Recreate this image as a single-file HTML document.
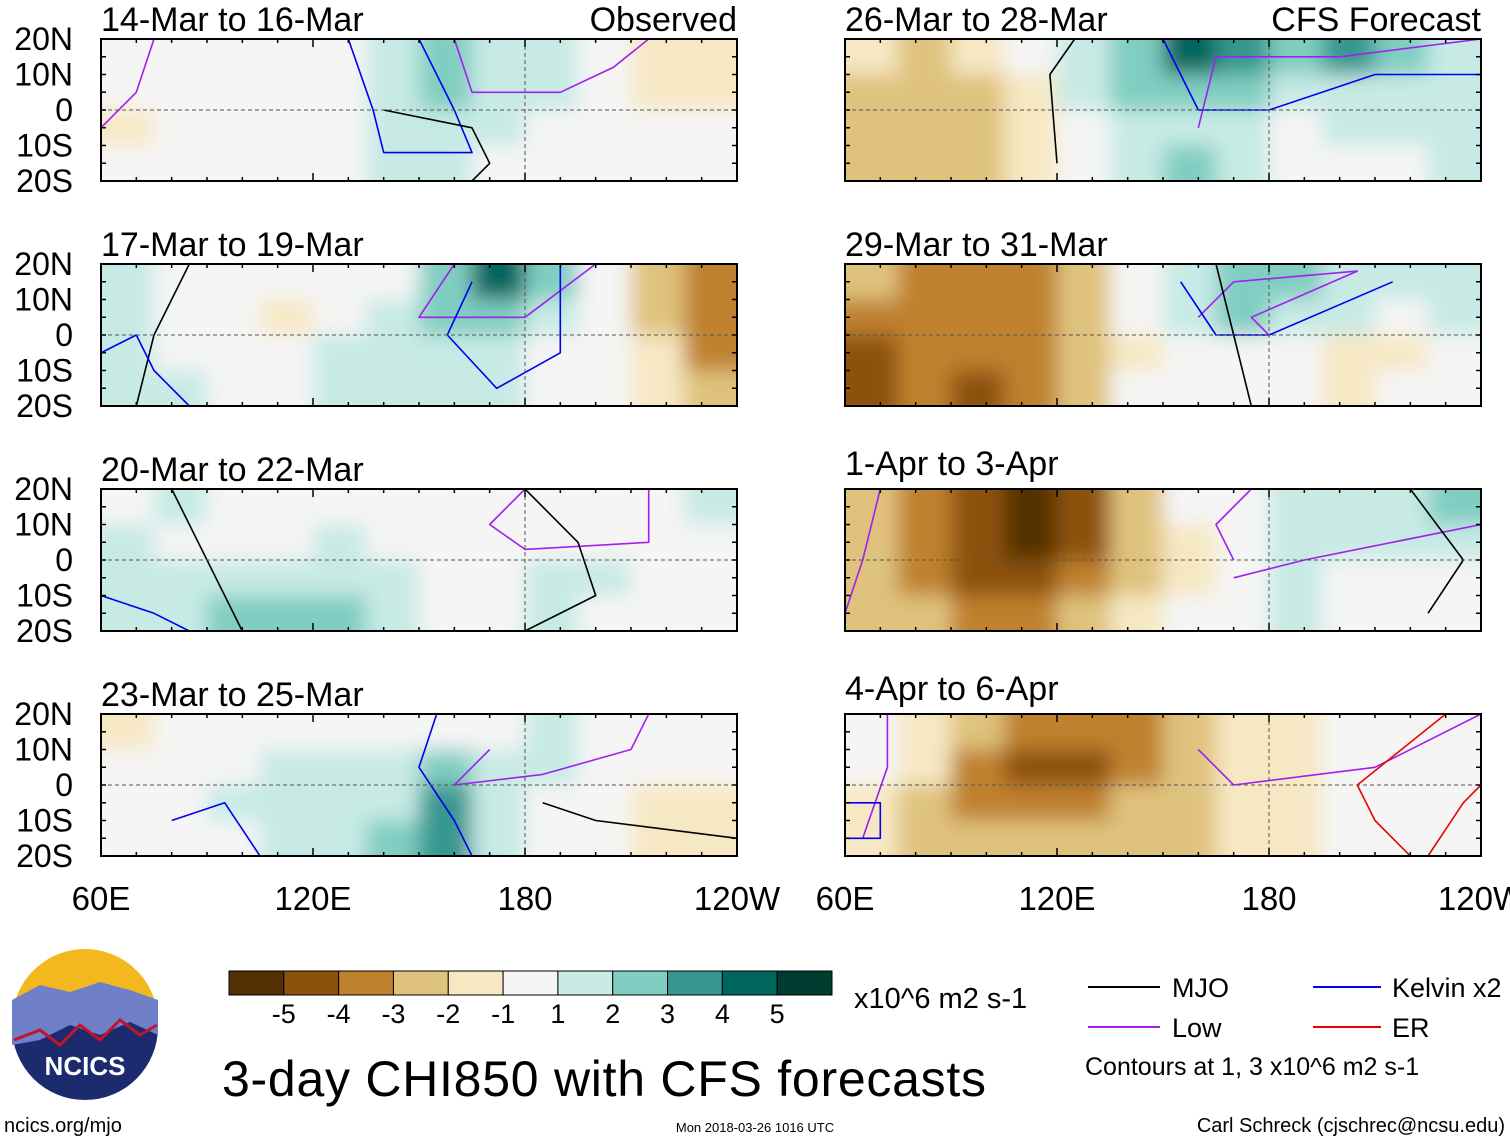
<!DOCTYPE html>
<html><head><meta charset="utf-8">
<style>
body{margin:0;background:#fff;}
svg{display:block;font-family:"Liberation Sans",Arial,sans-serif;}
</style></head>
<body>
<svg id="chart" width="1510" height="1142" viewBox="0 0 1510 1142">
<defs>
<filter id="blur" x="-5%" y="-20%" width="110%" height="140%"><feGaussianBlur stdDeviation="10"/></filter>
</defs>
<g id="panels"></g>
<g id="bottom">
  <g>
    <circle cx="85" cy="1027" r="73" fill="#1c2a6e"/>
    <path d="M13,1010 A73,73 0 0 1 157,1010 Z" fill="#f2b81e"/>
    <path d="M12,1000 L40,985 L70,992 L100,982 L130,990 L158,1000 L158,1035 L130,1022 L100,1035 L70,1025 L40,1040 L12,1045 Z" fill="#6f7fc8"/>
    <path d="M14,1040 L40,1030 L60,1045 L80,1025 L100,1040 L120,1020 L140,1035 L157,1025" stroke="#c0152a" stroke-width="3" fill="none"/>
    <text x="85" y="1075" font-size="26" font-weight="bold" fill="#fff" text-anchor="middle">NCICS</text>
  </g>
  <g id="colorbar"></g>
  <text x="854" y="1008" font-size="29">x10^6 m2 s-1</text>
  <text x="222" y="1096" font-size="50" textLength="764">3-day CHI850 with CFS forecasts</text>
  <g>
    <line x1="1088" y1="987" x2="1160" y2="987" stroke="#000" stroke-width="2"/>
    <text x="1172" y="997" font-size="27">MJO</text>
    <line x1="1313" y1="987" x2="1381" y2="987" stroke="#0000ee" stroke-width="2"/>
    <text x="1392" y="997" font-size="27">Kelvin x2</text>
    <line x1="1088" y1="1027" x2="1160" y2="1027" stroke="#a020f0" stroke-width="2"/>
    <text x="1172" y="1037" font-size="27">Low</text>
    <line x1="1313" y1="1027" x2="1381" y2="1027" stroke="#ee0000" stroke-width="2"/>
    <text x="1392" y="1037" font-size="27">ER</text>
    <text x="1085" y="1075" font-size="25">Contours at 1, 3 x10^6 m2 s-1</text>
  </g>
  <text x="4" y="1132" font-size="20">ncics.org/mjo</text>
  <text x="755" y="1132" font-size="13" text-anchor="middle">Mon 2018-03-26 1016 UTC</text>
  <text x="1505" y="1132" font-size="20" text-anchor="end">Carl Schreck (cjschrec@ncsu.edu)</text>
</g>
</svg>
<script>
const titles = ["14-Mar to 16-Mar","17-Mar to 19-Mar","20-Mar to 22-Mar","23-Mar to 25-Mar","26-Mar to 28-Mar","29-Mar to 31-Mar","1-Apr to 3-Apr","4-Apr to 6-Apr"];
const lonEdges = [60,75,90,105,120,135,150,165,180,195,210,225,240];
const latEdges = [20,10,0,-10,-20];
const latTicks = ["20N","10N","0","10S","20S"];
const latTickVals = [20,10,0,-10,-20];
const lonTicks = ["60E","120E","180","120W"];
const lonTickVals = [60,120,180,240];
const levels = [-5,-4,-3,-2,-1,1,2,3,4,5];
const levelLabels = ["-5","-4","-3","-2","-1","1","2","3","4","5"];
const colors = ["#543005","#8c510a","#bf812d","#dfc27d","#f6e8c3","#f5f5f5","#c7eae5","#80cdc1","#35978f","#01665e","#003c30"];
const p1 = [[0,0,0,0,0,1.5,2.5,2,1.5,0,-1.5,-1.5],[0,0,0,0,0,1.5,3,2,1.5,0,-1,-1.5],[-1.2,0,0,0,0,1.5,2,1.5,0,0,0,0],[0,0,0,0,0,1.5,1.5,0,0,0,0,0]];
const p2 = [[1.5,0,0,0,0,0,2.5,4.5,2.5,0,-2,-3.5],[1.5,0,0,-1.5,0,1.5,3,3,2,0,-2,-3.5],[1.5,0,0,0,1.5,1.5,1.5,1.5,0,0,-1.5,-3],[1.5,1.5,0,0,1.5,1.5,1.5,1.5,0,0,-1.5,-2.5]];
const p3 = [[0,1.5,0,0,0,0,0,0,0,0,0,1.5],[1.5,0,0,0,1.5,0,0,0,0,0,0,0],[1.5,1.5,2,2,1.5,1.5,0,0,1.5,1.5,0,0],[1.5,1.5,2.5,3,2.5,1.5,0,0,1.5,0,0,0]];
const p4 = [[-1.2,0,0,0,0,0,0,0,1.5,0,0,0],[0,0,0,1.5,1.5,2,2.5,1.5,1.5,0,0,0],[0,0,1.5,2,2,2,3.5,2,0,0,-1.5,-1.5],[0,0,0,1.5,1.5,2.5,4,2,0,0,-1.5,-1.2]];
const p5 = [[-1.5,-2,-1.5,0,1.5,3,4.5,4,3,3.5,2.5,1.5],[-2,-2.5,-2,-1.2,1.5,2.5,3,2.5,2,1.5,1.5,1.5],[-2,-2.5,-2.5,-1.5,0,1.5,2,1.5,0,1.5,1.5,1.5],[-2,-2.5,-2.5,-1.5,0,1.5,2.5,1.5,0,0,0,1.5]];
const p6 = [[-2.5,-3,-3,-3.5,-2,0,2,3,3,2,1.5,1.5],[-3,-3.5,-3.5,-3.5,-2,0,1.5,2.5,2,1.5,0,1.5],[-4,-3.5,-3.5,-3.5,-2,-1.2,0,0,0,-1.5,-1.5,0],[-4,-3.5,-4,-3,-2,0,0,0,0,-1.2,0,0]];
const p7 = [[-2,-3,-4,-5,-4.5,-2.5,0,0,1.5,1.5,1.5,2.5],[-2,-3,-4,-5.5,-4,-2,-1.2,0,1.5,1.5,1.5,1.5],[-2,-3,-4,-4,-3.5,-2,-1.5,0,1.5,0,0,0],[-2,-2.5,-3,-3,-2.5,-1.5,0,0,1.5,0,0,0]];
const p8 = [[0,-1.5,-2.5,-3,-3.5,-3,-2,-1.5,-1.2,0,0,0],[0,-1.5,-3,-4,-4,-3.5,-2,-1.5,-1.2,0,0,0],[-1.2,-2,-3,-3.5,-3,-2.5,-2,-1.5,-1.5,0,0,0],[-1.2,-2,-2.5,-2.5,-2.5,-2,-2,-1.5,-1.5,0,0,0]];
const panelData = [p1,p2,p3,p4,p5,p6,p7,p8];
// contour polylines: [panelIndex, type, [[lon,lat],...]]
const contours = [
 [0,"low",[[60,-5],[70,5],[75,20]]],
 [0,"low",[[160,20],[165,5],[190,5],[205,12],[215,20]]],
 [0,"kelvin",[[130,20],[137,0],[140,-12],[165,-12],[160,0],[150,20]]],
 [0,"mjo",[[140,0],[165,-5],[170,-15],[165,-20]]],
 [1,"low",[[160,20],[150,5],[180,5],[200,20]]],
 [1,"kelvin",[[165,15],[158,0],[172,-15],[190,-5],[190,20]]],
 [1,"mjo",[[70,-20],[75,0],[85,20]]],
 [1,"kelvin",[[60,-5],[70,0],[75,-10],[85,-20]]],
 [2,"low",[[180,20],[170,10],[180,3],[215,5],[215,20]]],
 [2,"mjo",[[80,20],[90,0],[100,-20]]],
 [2,"mjo",[[180,20],[195,5],[200,-10],[180,-20]]],
 [2,"kelvin",[[60,-10],[75,-15],[85,-20]]],
 [3,"low",[[170,10],[160,0],[185,3],[210,10],[215,20]]],
 [3,"kelvin",[[155,20],[150,5],[160,-10],[165,-20]]],
 [3,"kelvin",[[80,-10],[95,-5],[105,-20]]],
 [3,"mjo",[[185,-5],[200,-10],[240,-15]]],
 [4,"low",[[160,-5],[165,15],[200,15],[240,20]]],
 [4,"kelvin",[[150,20],[160,0],[180,0],[210,10],[240,10]]],
 [4,"mjo",[[120,-15],[118,10],[125,20]]],
 [5,"low",[[160,5],[170,15],[205,18],[175,5],[180,0]]],
 [5,"kelvin",[[155,15],[165,0],[180,0],[215,15]]],
 [5,"mjo",[[165,20],[170,0],[175,-20]]],
 [6,"low",[[170,0],[165,10],[175,20]]],
 [6,"low",[[60,-15],[65,0],[70,20]]],
 [6,"low",[[170,-5],[190,0],[240,10]]],
 [6,"mjo",[[220,20],[235,0],[225,-15]]],
 [7,"low",[[65,-15],[72,5],[72,20]]],
 [7,"low",[[160,10],[170,0],[210,5],[240,20]]],
 [7,"kelvin",[[60,-5],[70,-5],[70,-15],[60,-15]]],
 [7,"er",[[230,20],[205,0],[210,-10],[220,-20]]],
 [7,"er",[[225,-20],[235,-5],[240,0]]]
];
const contourColors = {mjo:"#000000",kelvin:"#0000ee",low:"#a020f0",er:"#ee0000"};

const NS="http://www.w3.org/2000/svg";
function mk(tag,attrs,parent){const e=document.createElementNS(NS,tag);for(const k in attrs)e.setAttribute(k,attrs[k]);if(parent)parent.appendChild(e);return e;}
function colorFor(v){let i=0;while(i<levels.length&&v>levels[i])i++;return colors[i];}
const PW=636,PH=142;
const colX=[101,845], rowY=[39,264,489,714];
function xs(ox,lon){return ox+(lon-60)/180*PW;}
function ys(oy,lat){return oy+(20-lat)/40*PH;}
const root=document.getElementById('panels');
panelData.forEach((data,p)=>{
  const col=p<4?0:1,row=p%4,ox=colX[col],oy=rowY[row];
  const g=mk('g',{},root);
  
  
  const cid='clip'+p;
  const cp=mk('clipPath',{id:cid},g);mk('rect',{x:ox,y:oy,width:PW,height:PH},cp);
  const cg=mk('g',{'clip-path':'url(#'+cid+')'},g);
  mk('rect',{x:ox,y:oy,width:PW,height:PH,fill:'#f5f5f5'},cg);
  const fg=mk('g',{filter:'url(#blur)'},cg);
  data.forEach((r,ri)=>r.forEach((v,ci)=>{
    const x0=xs(ox,lonEdges[ci]),x1=xs(ox,lonEdges[ci+1]);
    const y0=ys(oy,latEdges[ri]),y1=ys(oy,latEdges[ri+1]);
    const c=mk('rect',{x:x0-(ci==0?20:0),y:y0-(ri==0?20:0),width:x1-x0+0.5+(ci==0||ci==11?20:0),height:y1-y0+0.5+(ri==0||ri==3?20:0),fill:colorFor(v)},fg);
    
    
  }));
  contours.filter(c=>c[0]===p).forEach(c=>{
    const d=c[2].map((pt,i)=>(i?'L':'M')+xs(ox,pt[0]).toFixed(1)+','+ys(oy,pt[1]).toFixed(1)).join(' ');
    const path=mk('path',{d:d,fill:'none',stroke:contourColors[c[1]],'stroke-width':1.6,'stroke-linejoin':'round'},cg);
    
    
  });
  mk('line',{x1:ox,x2:ox+PW,y1:ys(oy,0),y2:ys(oy,0),stroke:'#555','stroke-dasharray':'4,3','stroke-width':1},g);
  mk('line',{x1:xs(ox,180),x2:xs(ox,180),y1:oy,y2:oy+PH,stroke:'#555','stroke-dasharray':'4,3','stroke-width':1},g);
  mk('rect',{x:ox,y:oy,width:PW,height:PH,fill:'none',stroke:'#000','stroke-width':2},g);
  for(let lon=60;lon<=240;lon+=10){const x=xs(ox,lon);const L=(lon%60==0)?8:4;
    mk('line',{x1:x,x2:x,y1:oy,y2:oy+L,stroke:'#000','stroke-width':1.5},g);
    mk('line',{x1:x,x2:x,y1:oy+PH,y2:oy+PH-L,stroke:'#000','stroke-width':1.5},g);}
  for(let lat=-20;lat<=20;lat+=5){const y=ys(oy,lat);
    mk('line',{x1:ox,x2:ox+5,y1:y,y2:y,stroke:'#000','stroke-width':1.5},g);
    mk('line',{x1:ox+PW,x2:ox+PW-5,y1:y,y2:y,stroke:'#000','stroke-width':1.5},g);}
  const t=mk('text',{x:ox,y:oy-8+(p==6||p==7?-6:0),'font-size':34},g);t.textContent=titles[p];
  
  
  if(p==0||p==4){const t2=mk('text',{x:ox+PW,y:oy-8,'font-size':34,'text-anchor':'end'},g);t2.textContent=p==0?'Observed':'CFS Forecast';
    
    }
  if(col==0){latTickVals.forEach((lv,i)=>{const tt=mk('text',{x:73,y:ys(oy,lv)+11,'font-size':32,'text-anchor':'end'},g);tt.textContent=latTicks[i];
    
    });}
  if(row==3){lonTickVals.forEach((lv,i)=>{const tt=mk('text',{x:xs(ox,lv),y:910,'font-size':33,'text-anchor':'middle'},g);tt.textContent=lonTicks[i];
    
    });}
});
const cb=document.getElementById('colorbar');
const cbx=229,cbw=603,cby=971,cbh=24,bw=cbw/colors.length;
colors.forEach((c,i)=>{const r=mk('rect',{x:cbx+i*bw,y:cby,width:bw,height:cbh,fill:c,stroke:'#000','stroke-width':1},cb);
  
  });
levelLabels.forEach((l,i)=>{const t=mk('text',{x:cbx+(i+1)*bw,y:1023,'font-size':27,'text-anchor':'middle'},cb);t.textContent=l;
  
  });
</script>
</body></html>
